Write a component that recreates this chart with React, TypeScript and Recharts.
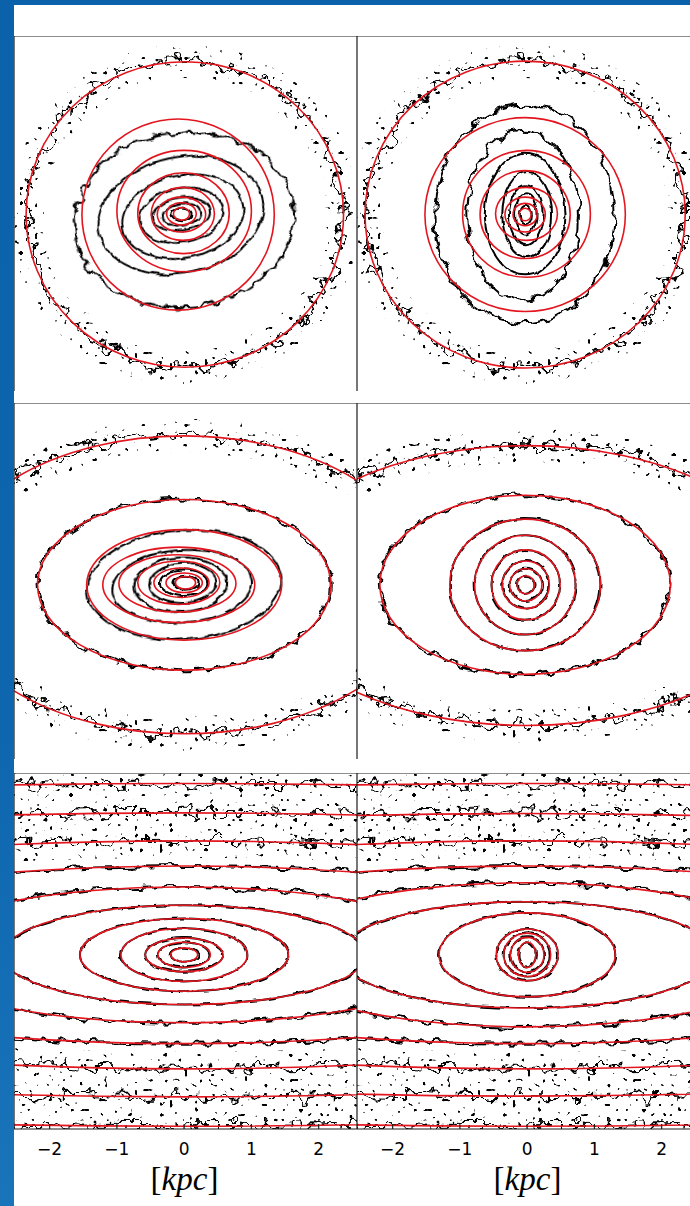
import React from 'react';
import { ComposedChart, XAxis, YAxis, ReferenceArea, Scatter } from 'recharts';

// ---------- axes ----------
const X_TICKS = [-2, -1, 0, 1, 2];
const Y_TICKS = [-2, -1, 0, 1, 2];
const X_DOMAIN: [number, number] = [-2.53, 2.57];
const Y_DOMAIN: [number, number] = [-2.49, 2.6];
const X_LABEL = 'kpc';

// ---------- data: red fitted ellipses [cx, cy, semi-axis x, semi-axis y] (kpc) ----------
const redTopLeft = [
  [0.01, 0.04, 2.36, 2.19],
  [-0.09, 0.04, 1.43, 1.37],
  [0, 0.09, 1.0, 0.87],
  [-0.01, 0.06, 0.68, 0.58],
  [-0.02, 0.05, 0.47, 0.38],
  [-0.04, 0.04, 0.36, 0.25],
  [-0.04, 0.05, 0.22, 0.16],
  [-0.04, 0.05, 0.12, 0.09],
];
const redTopRight = [
  [-0.03, 0.04, 2.38, 2.2],
  [-0.03, 0.04, 1.49, 1.39],
  [-0.01, 0.05, 0.95, 0.91],
  [-0.03, 0.04, 0.67, 0.63],
  [-0.01, 0.05, 0.46, 0.38],
  [-0.03, 0.04, 0.3, 0.25],
  [-0.03, 0.04, 0.18, 0.16],
  [-0.03, 0.04, 0.09, 0.09],
];
const redMidLeft = [
  [0, 0, 3.6, 2.13],
  [0, 0, 2.18, 1.22],
  [0, 0, 1.45, 0.79],
  [-0.08, 0, 1.13, 0.54],
  [-0.1, 0.02, 0.87, 0.41],
  [-0.08, 0.03, 0.61, 0.31],
  [-0.04, 0.03, 0.41, 0.21],
  [0, 0.03, 0.27, 0.14],
  [0.02, 0.03, 0.15, 0.09],
];
const redMidRight = [
  [-0.01, -0.01, 3.9, 2.0],
  [-0.03, 0, 2.16, 1.28],
  [-0.03, 0, 1.12, 0.94],
  [-0.03, 0, 0.75, 0.71],
  [-0.02, 0, 0.51, 0.5],
  [-0.02, 0, 0.35, 0.34],
  [-0.02, 0, 0.24, 0.23],
  [-0.02, 0, 0.13, 0.13],
];
const redBottomLeft = [
  [0, 0, 0.2, 0.1],
  [0, 0, 0.39, 0.18],
  [0, 0, 0.58, 0.24],
  [0, 0, 0.94, 0.38],
  [0, 0, 1.55, 0.52],
  [0, 0, 2.7, 0.71],
  [0, 0, 4.16, 0.97],
  [0, 0, 7.0, 1.27],
  [0, 0, 10, 1.63],
  [0, 0, 15, 2.03],
  [0, 0, 20, 2.45],
];
const redBottomRight = [
  [0, 0, 0.13, 0.18],
  [0, 0, 0.25, 0.25],
  [0, 0, 0.35, 0.31],
  [0, 0, 0.46, 0.37],
  [0, 0, 1.31, 0.6],
  [0, 0, 2.8, 0.76],
  [0, 0, 4.0, 1.03],
  [0, 0, 7.0, 1.27],
  [0, 0, 10, 1.63],
  [0, 0, 15, 2.02],
  [0, 0, 20, 2.45],
];

// ---------- data: black isophotes [cx, cy, semi-axis x, semi-axis y, tilt deg] ----------
const blackTopLeft = [
  [0.01, 0.04, 2.35, 2.2, 0],
  [0, -0.04, 1.64, 1.25, 6],
  [-0.05, 0.03, 1.24, 0.83, 12],
  [-0.02, 0.01, 0.91, 0.59, 12],
  [-0.04, 0.03, 0.63, 0.39, 10],
  [-0.04, 0.04, 0.44, 0.23, 8],
  [-0.04, 0.04, 0.28, 0.16, 8],
  [-0.04, 0.05, 0.15, 0.09, 0],
];
const blackTopRight = [
  [-0.03, 0.04, 2.38, 2.2, 0],
  [-0.04, 0.04, 1.34, 1.56, 0],
  [-0.06, 0.03, 0.83, 1.21, 0],
  [-0.03, 0.04, 0.6, 0.87, 0],
  [0, 0.04, 0.37, 0.61, 0],
  [-0.02, 0.03, 0.25, 0.43, 0],
  [-0.02, 0.04, 0.16, 0.29, 0],
  [-0.02, 0.04, 0.09, 0.14, 0],
];
const blackMidLeft = [
  [0, 0, 3.6, 2.13, 0],
  [0, 0, 2.18, 1.22, 0],
  [0, 0, 1.45, 0.78, 4],
  [-0.03, -0.02, 1.04, 0.52, 4],
  [-0.05, 0, 0.69, 0.39, 3],
  [-0.02, 0.02, 0.5, 0.28, 3],
  [0, 0.03, 0.36, 0.19, 0],
  [0.02, 0.03, 0.18, 0.1, 0],
];
const blackMidRight = [
  [-0.01, -0.01, 3.9, 2.0, 0],
  [-0.03, 0, 2.16, 1.28, 0],
  [-0.03, 0, 1.12, 0.94, 0],
  [-0.03, 0, 0.75, 0.71, 0],
  [-0.02, 0, 0.51, 0.5, 0],
  [-0.02, 0, 0.35, 0.34, 0],
  [-0.02, 0, 0.24, 0.23, 0],
  [-0.02, 0, 0.13, 0.13, 0],
];
const blackBottomLeft = [
  [0, 0, 0.2, 0.1, 0],
  [0, 0, 0.39, 0.18, 0],
  [0, 0, 0.58, 0.24, 0],
  [0, 0, 0.94, 0.38, 0],
  [0, 0, 1.55, 0.52, 0],
  [0, 0, 2.7, 0.71, 0],
  [0, 0, 4.16, 0.97, 0],
  [0, 0, 7.0, 1.27, 0],
  [0, 0, 10, 1.63, 0],
  [0, 0, 15, 2.03, 0],
  [0, 0, 20, 2.45, 0],
];
const blackBottomRight = [
  [0, 0, 0.13, 0.18, 0],
  [0, 0, 0.25, 0.25, 0],
  [0, 0, 0.35, 0.31, 0],
  [0, 0, 0.46, 0.37, 0],
  [0, 0, 1.31, 0.6, 0],
  [0, 0, 2.8, 0.76, 0],
  [0, 0, 4.0, 1.03, 0],
  [0, 0, 7.0, 1.27, 0],
  [0, 0, 10, 1.63, 0],
  [0, 0, 15, 2.02, 0],
  [0, 0, 20, 2.45, 0],
];

// ---------- styles ----------
const RED = '#e3161f';
const BLACK = '#000';
const FRAME = '#1c1c1c';
const BLUE = '#0b62aa';
const PLOT_W = 343;
const COL_LEFT = [14, 357];
const ROW_TOP = [36, 403, 773];
const ROW_H = [355, 356, 356];
const AXIS_H = 44;

const fmt = (v: number) => (v < 0 ? `\u2212${Math.abs(v)}` : `${v}`);

const noiseFor = (ay: number) => (ay > 1.6 ? 'url(#roughH)' : ay > 0.95 ? 'url(#roughM)' : 'url(#roughL)');

const ellipseShape = (stroke: string, width: number, tilt: number, filter?: string) => (p: any) => {
  const w = Math.abs(p.width);
  const h = Math.abs(p.height);
  const x = Math.min(p.x, p.x + p.width);
  const y = Math.min(p.y, p.y + p.height);
  const cx = x + w / 2;
  const cy = y + h / 2;
  return (
    <g clipPath={p.clipPath}>
      <ellipse
        cx={cx}
        cy={cy}
        rx={w / 2}
        ry={h / 2}
        fill="none"
        stroke={stroke}
        strokeWidth={width}
        filter={filter}
        transform={tilt ? `rotate(${-tilt} ${cx} ${cy})` : undefined}
      />
    </g>
  );
};

const hiddenPoint = () => <g />;

function Filters() {
  const region = { filterUnits: 'userSpaceOnUse', x: -40, y: -40, width: 430, height: 490 } as any;
  return (
    <svg width={0} height={0} style={{ position: 'absolute' }}>
      <defs>
        <filter id="roughL" {...region} colorInterpolationFilters="sRGB">
          <feTurbulence type="fractalNoise" baseFrequency="0.09" numOctaves={2} seed={3} result="t" />
          <feDisplacementMap in="SourceGraphic" in2="t" scale={4.5} xChannelSelector="R" yChannelSelector="G" />
        </filter>
        <filter id="roughM" {...region} colorInterpolationFilters="sRGB">
          <feTurbulence type="fractalNoise" baseFrequency="0.08" numOctaves={2} seed={5} result="t" />
          <feDisplacementMap in="SourceGraphic" in2="t" scale={13} xChannelSelector="R" yChannelSelector="G" />
        </filter>
        <filter id="roughH" {...region} colorInterpolationFilters="sRGB">
          <feTurbulence type="fractalNoise" baseFrequency="0.07" numOctaves={3} seed={8} result="t" />
          <feDisplacementMap in="SourceGraphic" in2="t" scale={30} xChannelSelector="R" yChannelSelector="G" />
        </filter>
        <filter id="speckle" {...region} colorInterpolationFilters="sRGB">
          <feTurbulence type="fractalNoise" baseFrequency="0.2" numOctaves={1} seed={11} result="n" />
          <feColorMatrix
            in="n"
            type="matrix"
            values="0 0 0 0 0  0 0 0 0 0  0 0 0 0 0  26 0 0 0 -17.8"
            result="m"
          />
          <feComposite in="SourceGraphic" in2="m" operator="in" />
        </filter>
      </defs>
    </svg>
  );
}

type PanelProps = { red: number[][]; black: number[][]; labels: boolean; height: number };

function Panel({ red, black, labels, height }: PanelProps) {
  const axisH = labels ? AXIS_H : 0;
  const axisStroke = { stroke: FRAME, strokeWidth: 1.2 };
  const centres = red.map((e) => ({ x: e[0], y: e[1] }));
  const area = (key: string, e: number[], shape: any) => (
    <ReferenceArea
      key={key}
      xAxisId="b"
      yAxisId="l"
      x1={e[0] - e[2]}
      x2={e[0] + e[2]}
      y1={e[1] - e[3]}
      y2={e[1] + e[3]}
      ifOverflow="hidden"
      shape={shape}
    />
  );
  return (
    <ComposedChart width={PLOT_W} height={height + axisH} margin={{ top: 0, right: 0, bottom: 0, left: 0 }}>
      <XAxis
        xAxisId="b"
        dataKey="x"
        type="number"
        domain={X_DOMAIN}
        allowDataOverflow
        ticks={X_TICKS}
        interval={0}
        orientation="bottom"
        mirror={!labels}
        height={labels ? axisH : 0}
        tickSize={labels ? -5 : 5}
        tickMargin={labels ? 19 : 0}
        tick={labels ? { fill: '#000', fontSize: 17, fontFamily: 'DejaVu Sans' } : false}
        tickFormatter={fmt}
        axisLine={axisStroke}
        tickLine={axisStroke}
      />
      <XAxis
        xAxisId="t"
        dataKey="x"
        type="number"
        domain={X_DOMAIN}
        allowDataOverflow
        ticks={X_TICKS}
        interval={0}
        orientation="top"
        mirror
        tick={false}
        tickSize={5}
        axisLine={axisStroke}
        tickLine={axisStroke}
      />
      <YAxis
        yAxisId="l"
        dataKey="y"
        type="number"
        domain={Y_DOMAIN}
        allowDataOverflow
        ticks={Y_TICKS}
        interval={0}
        orientation="left"
        mirror
        tick={false}
        tickSize={5}
        axisLine={axisStroke}
        tickLine={axisStroke}
      />
      <YAxis
        yAxisId="r"
        dataKey="y"
        type="number"
        domain={Y_DOMAIN}
        allowDataOverflow
        ticks={Y_TICKS}
        interval={0}
        orientation="right"
        mirror
        tick={false}
        tickSize={5}
        axisLine={axisStroke}
        tickLine={axisStroke}
      />
      <Scatter xAxisId="b" yAxisId="l" data={centres} dataKey="y" shape={hiddenPoint} isAnimationActive={false} />
      <Scatter xAxisId="t" yAxisId="r" data={centres} dataKey="y" shape={hiddenPoint} isAnimationActive={false} />
      {black
        .filter((e) => e[3] > 1.6)
        .map((e, i) => area(`s${i}`, e, ellipseShape(BLACK, 34, 0, 'url(#speckle)')))}
      {black.map((e, i) => area(`b${i}`, e, ellipseShape(BLACK, 2, e[4], noiseFor(e[3]))))}
      {red.map((e, i) => area(`r${i}`, e, ellipseShape(RED, 1.6, 0)))}
    </ComposedChart>
  );
}

const PANELS = [
  { red: redTopLeft, black: blackTopLeft },
  { red: redTopRight, black: blackTopRight },
  { red: redMidLeft, black: blackMidLeft },
  { red: redMidRight, black: blackMidRight },
  { red: redBottomLeft, black: blackBottomLeft },
  { red: redBottomRight, black: blackBottomRight },
];

export default function App() {
  return (
    <div
      style={{
        position: 'absolute',
        left: 0,
        top: 0,
        width: 690,
        height: 1206,
        overflow: 'hidden',
        background: `linear-gradient(180deg, ${BLUE} 0%, #0d66ae 60%, #1a74ba 100%)`,
      }}
    >
      <Filters />
      <div style={{ position: 'absolute', left: 14, top: 5, width: 676, height: 1201, background: '#fff' }} />
      {PANELS.map((p, i) => {
        const row = Math.floor(i / 2);
        const col = i % 2;
        const labels = row === 2;
        return (
          <div
            key={i}
            style={{ position: 'absolute', left: COL_LEFT[col], top: ROW_TOP[row], width: PLOT_W }}
          >
            <Panel red={p.red} black={p.black} labels={labels} height={ROW_H[row]} />
          </div>
        );
      })}
      {COL_LEFT.map((left, i) => (
        <div
          key={`lab${i}`}
          style={{
            position: 'absolute',
            left: left,
            top: 1163,
            width: PLOT_W,
            textAlign: 'center',
            fontFamily: '"Liberation Serif", "DejaVu Serif", serif',
            fontSize: 33,
            lineHeight: '33px',
            color: '#000',
          }}
        >
          <span style={{ position: 'relative', left: -1 }}>
            [<span style={{ fontStyle: 'italic' }}>{X_LABEL}</span>]
          </span>
        </div>
      ))}
    </div>
  );
}
